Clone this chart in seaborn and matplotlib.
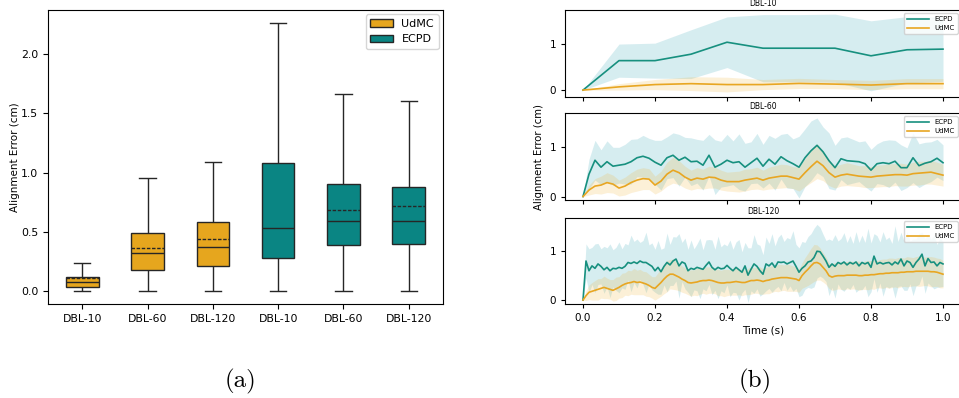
import numpy as np
import pandas as pd
import matplotlib
matplotlib.use("Agg")
import matplotlib.pyplot as plt
import seaborn as sns

# ---------------- data: panel (a) box summaries ----------------
groups = ["DBL-10", "DBL-60", "DBL-120"]
methods = ["UdMC", "ECPD"]

udmc_min = [0.0, 0.0, 0.0]
udmc_q1 = [0.034, 0.172, 0.212]
udmc_med = [0.070, 0.322, 0.370]
udmc_q3 = [0.113, 0.484, 0.580]
udmc_max = [0.235, 0.950, 1.086]
udmc_mean = [0.107, 0.359, 0.436]

ecpd_min = [0.0, 0.0, 0.0]
ecpd_q1 = [0.280, 0.390, 0.396]
ecpd_med = [0.532, 0.591, 0.588]
ecpd_q3 = [1.083, 0.905, 0.874]
ecpd_max = [2.263, 1.669, 1.604]
ecpd_mean = [np.nan, 0.679, 0.716]

# ---------------- data: panel (b) time series ----------------
ecpd_10 = [0.00, 0.64, 0.64, 0.78, 1.04, 0.91, 0.91, 0.91, 0.745, 0.876, 0.89]
ecpd_10_sd = [0.00, 0.36, 0.38, 0.53, 0.55, 0.73, 0.73, 0.74, 0.76, 0.72, 0.70]
udmc_10 = [0.00, 0.07, 0.12, 0.14, 0.12, 0.12, 0.145, 0.13, 0.11, 0.14, 0.14]
udmc_10_sd = [0.00, 0.07, 0.11, 0.15, 0.16, 0.11, 0.11, 0.10, 0.10, 0.11, 0.11]

ecpd_60 = [0.00, 0.45, 0.73, 0.59, 0.70, 0.61, 0.63, 0.65, 0.70, 0.78,
           0.81, 0.77, 0.69, 0.63, 0.78, 0.83, 0.73, 0.79, 0.70, 0.71,
           0.63, 0.83, 0.59, 0.65, 0.73, 0.68, 0.70, 0.59, 0.68, 0.77,
           0.61, 0.75, 0.65, 0.80, 0.72, 0.66, 0.59, 0.78, 0.92, 1.03,
           0.90, 0.72, 0.58, 0.76, 0.72, 0.71, 0.70, 0.66, 0.53, 0.66,
           0.68, 0.66, 0.71, 0.58, 0.58, 0.78, 0.62, 0.67, 0.70, 0.77,
           0.68]
ecpd_60_sd = [0.00, 0.30, 0.40, 0.35, 0.42, 0.38, 0.36, 0.40, 0.45, 0.38,
              0.42, 0.40, 0.44, 0.50, 0.42, 0.45, 0.52, 0.40, 0.48, 0.44,
              0.50, 0.42, 0.55, 0.46, 0.52, 0.44, 0.56, 0.48, 0.42, 0.50,
              0.44, 0.48, 0.52, 0.45, 0.55, 0.50, 0.62, 0.58, 0.60, 0.55,
              0.50, 0.56, 0.45, 0.42, 0.48, 0.44, 0.40, 0.46, 0.42, 0.40,
              0.44, 0.48, 0.42, 0.46, 0.40, 0.50, 0.44, 0.42, 0.40, 0.38,
              0.36]
udmc_60 = [0.00, 0.13, 0.21, 0.23, 0.28, 0.25, 0.17, 0.21, 0.28, 0.33,
           0.36, 0.35, 0.23, 0.31, 0.45, 0.53, 0.48, 0.39, 0.33, 0.37,
           0.35, 0.39, 0.38, 0.33, 0.30, 0.30, 0.30, 0.33, 0.35, 0.37,
           0.33, 0.37, 0.39, 0.41, 0.41, 0.38, 0.35, 0.48, 0.60, 0.71,
           0.62, 0.48, 0.39, 0.43, 0.45, 0.43, 0.41, 0.40, 0.39, 0.41,
           0.42, 0.43, 0.44, 0.44, 0.43, 0.46, 0.47, 0.48, 0.49, 0.46,
           0.43]
udmc_60_sd = [0.00, 0.10, 0.15, 0.18, 0.20, 0.18, 0.16, 0.18, 0.20, 0.22,
              0.22, 0.21, 0.18, 0.20, 0.24, 0.26, 0.24, 0.22, 0.20, 0.21,
              0.20, 0.22, 0.21, 0.20, 0.19, 0.20, 0.21, 0.22, 0.21, 0.22,
              0.20, 0.22, 0.23, 0.24, 0.23, 0.22, 0.24, 0.28, 0.32, 0.35,
              0.30, 0.26, 0.22, 0.22, 0.23, 0.22, 0.21, 0.22, 0.21, 0.22,
              0.22, 0.23, 0.22, 0.23, 0.22, 0.23, 0.24, 0.23, 0.24, 0.23,
              0.22]

ecpd_120 = [0.00, 0.80, 0.60, 0.70, 0.65, 0.74, 0.69, 0.62, 0.67, 0.60,
            0.65, 0.64, 0.67, 0.65, 0.69, 0.77, 0.75, 0.78, 0.75, 0.80,
            0.77, 0.77, 0.73, 0.69, 0.60, 0.67, 0.58, 0.69, 0.77, 0.72,
            0.80, 0.84, 0.70, 0.78, 0.75, 0.60, 0.65, 0.63, 0.67, 0.65,
            0.63, 0.71, 0.78, 0.67, 0.62, 0.67, 0.64, 0.65, 0.71, 0.65,
            0.60, 0.67, 0.62, 0.57, 0.70, 0.51, 0.63, 0.74, 0.69, 0.60,
            0.53, 0.74, 0.70, 0.76, 0.67, 0.78, 0.77, 0.78, 0.74, 0.77,
            0.80, 0.69, 0.57, 0.65, 0.70, 0.78, 0.80, 0.87, 1.00, 0.99,
            0.90, 0.80, 0.67, 0.74, 0.69, 0.77, 0.74, 0.78, 0.72, 0.77,
            0.74, 0.78, 0.70, 0.77, 0.74, 0.77, 0.67, 0.90, 0.74, 0.77,
            0.74, 0.76, 0.77, 0.72, 0.78, 0.74, 0.84, 0.70, 0.80, 0.77,
            0.67, 0.77, 0.84, 0.94, 0.70, 0.85, 0.77, 0.78, 0.70, 0.77,
            0.74]
ecpd_120_sd = [0.00, 0.35, 0.45, 0.38, 0.50, 0.42, 0.36, 0.48, 0.40, 0.55,
               0.38, 0.44, 0.52, 0.40, 0.47, 0.36, 0.58, 0.42, 0.50, 0.38,
               0.45, 0.62, 0.40, 0.48, 0.44, 0.55, 0.46, 0.38, 0.60, 0.42,
               0.50, 0.45, 0.66, 0.40, 0.52, 0.44, 0.58, 0.42, 0.48, 0.62,
               0.40, 0.52, 0.46, 0.56, 0.42, 0.64, 0.45, 0.50, 0.40, 0.58,
               0.44, 0.52, 0.62, 0.42, 0.48, 0.56, 0.44, 0.60, 0.46, 0.52,
               0.40, 0.55, 0.46, 0.60, 0.44, 0.50, 0.58, 0.42, 0.54, 0.48,
               0.62, 0.45, 0.50, 0.55, 0.48, 0.52, 0.56, 0.60, 0.55, 0.50,
               0.45, 0.42, 0.58, 0.48, 0.65, 0.44, 0.52, 0.60, 0.46, 0.55,
               0.42, 0.62, 0.48, 0.56, 0.44, 0.70, 0.50, 0.46, 0.58, 0.42,
               0.66, 0.48, 0.52, 0.44, 0.74, 0.46, 0.55, 0.50, 0.60, 0.44,
               0.58, 0.48, 0.52, 0.45, 0.56, 0.50, 0.48, 0.55, 0.44, 0.50,
               0.46]
udmc_120 = [0.00, 0.09, 0.16, 0.18, 0.20, 0.22, 0.24, 0.26, 0.24, 0.22,
            0.20, 0.23, 0.26, 0.30, 0.33, 0.35, 0.36, 0.38, 0.36, 0.37,
            0.35, 0.33, 0.30, 0.26, 0.24, 0.30, 0.36, 0.43, 0.49, 0.53,
            0.53, 0.50, 0.47, 0.43, 0.40, 0.36, 0.35, 0.36, 0.37, 0.39,
            0.40, 0.40, 0.41, 0.40, 0.38, 0.36, 0.35, 0.35, 0.36, 0.36,
            0.37, 0.38, 0.37, 0.36, 0.36, 0.38, 0.40, 0.40, 0.41, 0.40,
            0.38, 0.40, 0.41, 0.43, 0.44, 0.45, 0.46, 0.46, 0.46, 0.45,
            0.44, 0.43, 0.40, 0.50, 0.57, 0.63, 0.70, 0.76, 0.77, 0.74,
            0.67, 0.60, 0.50, 0.47, 0.49, 0.50, 0.50, 0.50, 0.51, 0.51,
            0.51, 0.51, 0.50, 0.50, 0.51, 0.51, 0.52, 0.52, 0.53, 0.54,
            0.54, 0.55, 0.55, 0.56, 0.56, 0.56, 0.57, 0.57, 0.58, 0.58,
            0.58, 0.59, 0.59, 0.59, 0.59, 0.59, 0.58, 0.58, 0.57, 0.55,
            0.53]
udmc_120_sd = [0.00, 0.10, 0.15, 0.18, 0.20, 0.22, 0.20, 0.23, 0.21, 0.20,
               0.22, 0.24, 0.22, 0.25, 0.23, 0.26, 0.24, 0.27, 0.25, 0.26,
               0.24, 0.25, 0.23, 0.22, 0.24, 0.26, 0.28, 0.30, 0.32, 0.30,
               0.31, 0.29, 0.28, 0.27, 0.26, 0.25, 0.27, 0.26, 0.28, 0.27,
               0.26, 0.28, 0.27, 0.26, 0.25, 0.27, 0.26, 0.28, 0.27, 0.26,
               0.27, 0.28, 0.26, 0.27, 0.25, 0.27, 0.28, 0.26, 0.27, 0.28,
               0.26, 0.27, 0.28, 0.27, 0.26, 0.28, 0.27, 0.26, 0.28, 0.27,
               0.26, 0.25, 0.24, 0.26, 0.30, 0.33, 0.36, 0.38, 0.36, 0.33,
               0.30, 0.28, 0.26, 0.27, 0.28, 0.27, 0.28, 0.29, 0.28, 0.29,
               0.28, 0.29, 0.30, 0.28, 0.29, 0.30, 0.29, 0.30, 0.28, 0.29,
               0.30, 0.29, 0.31, 0.30, 0.29, 0.31, 0.30, 0.29, 0.31, 0.30,
               0.29, 0.30, 0.31, 0.30, 0.29, 0.30, 0.31, 0.30, 0.29, 0.30,
               0.28]

# ---------------- style ----------------
c_udmc_box = "#E6A61E"
c_ecpd_box = "#0A8583"
c_udmc_line = "#E8A622"
c_ecpd_line = "#17907F"
c_udmc_band = "#F2B43A"
c_ecpd_band = "#48AEBE"
edge = "#262626"

fig = plt.figure(figsize=(9.59, 3.98), dpi=100)
W, H = 959.0, 398.0


def rect(x0, y0, x1, y1):
    return [x0 / W, 1 - y1 / H, (x1 - x0) / W, (y1 - y0) / H]


# ---------------- panel (a) ----------------
keys = [m + " " + g for m in methods for g in groups]
rows = []
for m, stats in (("UdMC", (udmc_min, udmc_q1, udmc_med, udmc_q3, udmc_max)),
                 ("ECPD", (ecpd_min, ecpd_q1, ecpd_med, ecpd_q3, ecpd_max))):
    for gi, g in enumerate(groups):
        for s in stats:
            rows.append({"method": m, "key": m + " " + g, "value": s[gi]})
df_box = pd.DataFrame(rows)

axa = fig.add_axes(rect(48, 10, 443, 304))
sns.boxplot(data=df_box, x="key", y="value", hue="method", order=keys,
            hue_order=methods, palette=[c_udmc_box, c_ecpd_box],
            dodge=False, width=0.5, whis=(0, 100), saturation=1,
            linecolor=edge, linewidth=1.0, ax=axa)
means = udmc_mean + ecpd_mean
for i, mval in enumerate(means):
    if not np.isnan(mval):
        axa.hlines(mval, i - 0.25, i + 0.25, colors=edge,
                   linestyles=(0, (2.5, 1.2)), lw=1.0, zorder=5)
axa.set_xticks(range(len(keys)))
axa.set_xticklabels(groups + groups)
axa.set_xlabel("")
axa.set_ylabel("Alignment Error (cm)", fontsize=7.5, labelpad=1)
axa.set_yticks([0.0, 0.5, 1.0, 1.5, 2.0])
axa.tick_params(labelsize=7.8)
sns.move_legend(axa, "upper right", title=None, fontsize=8,
                handlelength=2.0, borderaxespad=0.4)

# ---------------- panel (b) ----------------
series = [
    ("DBL-10", ecpd_10, ecpd_10_sd, udmc_10, udmc_10_sd, (10, 97), (-0.15, 1.74)),
    ("DBL-60", ecpd_60, ecpd_60_sd, udmc_60, udmc_60_sd, (113, 199.5), (-0.06, 1.68)),
    ("DBL-120", ecpd_120, ecpd_120_sd, udmc_120, udmc_120_sd, (218, 304), (-0.08, 1.68)),
]
for k, (name, em, es, um, us, (y0, y1), ylim) in enumerate(series):
    ax = fig.add_axes(rect(565, y0, 961, y1))
    em = np.array(em); es = np.array(es); um = np.array(um); us = np.array(us)
    t = np.linspace(0, 1, len(em))
    ax.fill_between(t, em - es, em + es, color=c_ecpd_band, alpha=0.22, lw=0)
    ax.fill_between(t, um - us, um + us, color=c_udmc_band, alpha=0.2, lw=0)
    sns.lineplot(x=t, y=em, color=c_ecpd_line, lw=1.2, label="ECPD", ax=ax)
    sns.lineplot(x=t, y=um, color=c_udmc_line, lw=1.2, label="UdMC", ax=ax)
    ax.set_xlim(-0.05, 1.05)
    ax.set_ylim(*ylim)
    ax.set_yticks([0, 1])
    ax.set_xticks([0.0, 0.2, 0.4, 0.6, 0.8, 1.0])
    ax.set_title(name, fontsize=5.5, pad=3)
    ax.tick_params(labelsize=7.5, length=3)
    ax.legend(loc="upper right", fontsize=5, handlelength=3.2,
              borderaxespad=0.5, labelspacing=0.4)
    if k < 2:
        ax.tick_params(labelbottom=False)
    else:
        ax.set_xlabel("Time (s)", fontsize=7.5, labelpad=2)

fig.text(539 / W, 1 - 157 / H, "Alignment Error (cm)", rotation=90,
         ha="center", va="center", fontsize=7.3)

# captions
fig.text(240 / W, 1 - 381 / H, "(a)", fontfamily="cmr10", fontsize=18,
         ha="center", va="center")
fig.text(755 / W, 1 - 381 / H, "(b)", fontfamily="cmr10", fontsize=18,
         ha="center", va="center")

fig.savefig("out.png", dpi=100)
